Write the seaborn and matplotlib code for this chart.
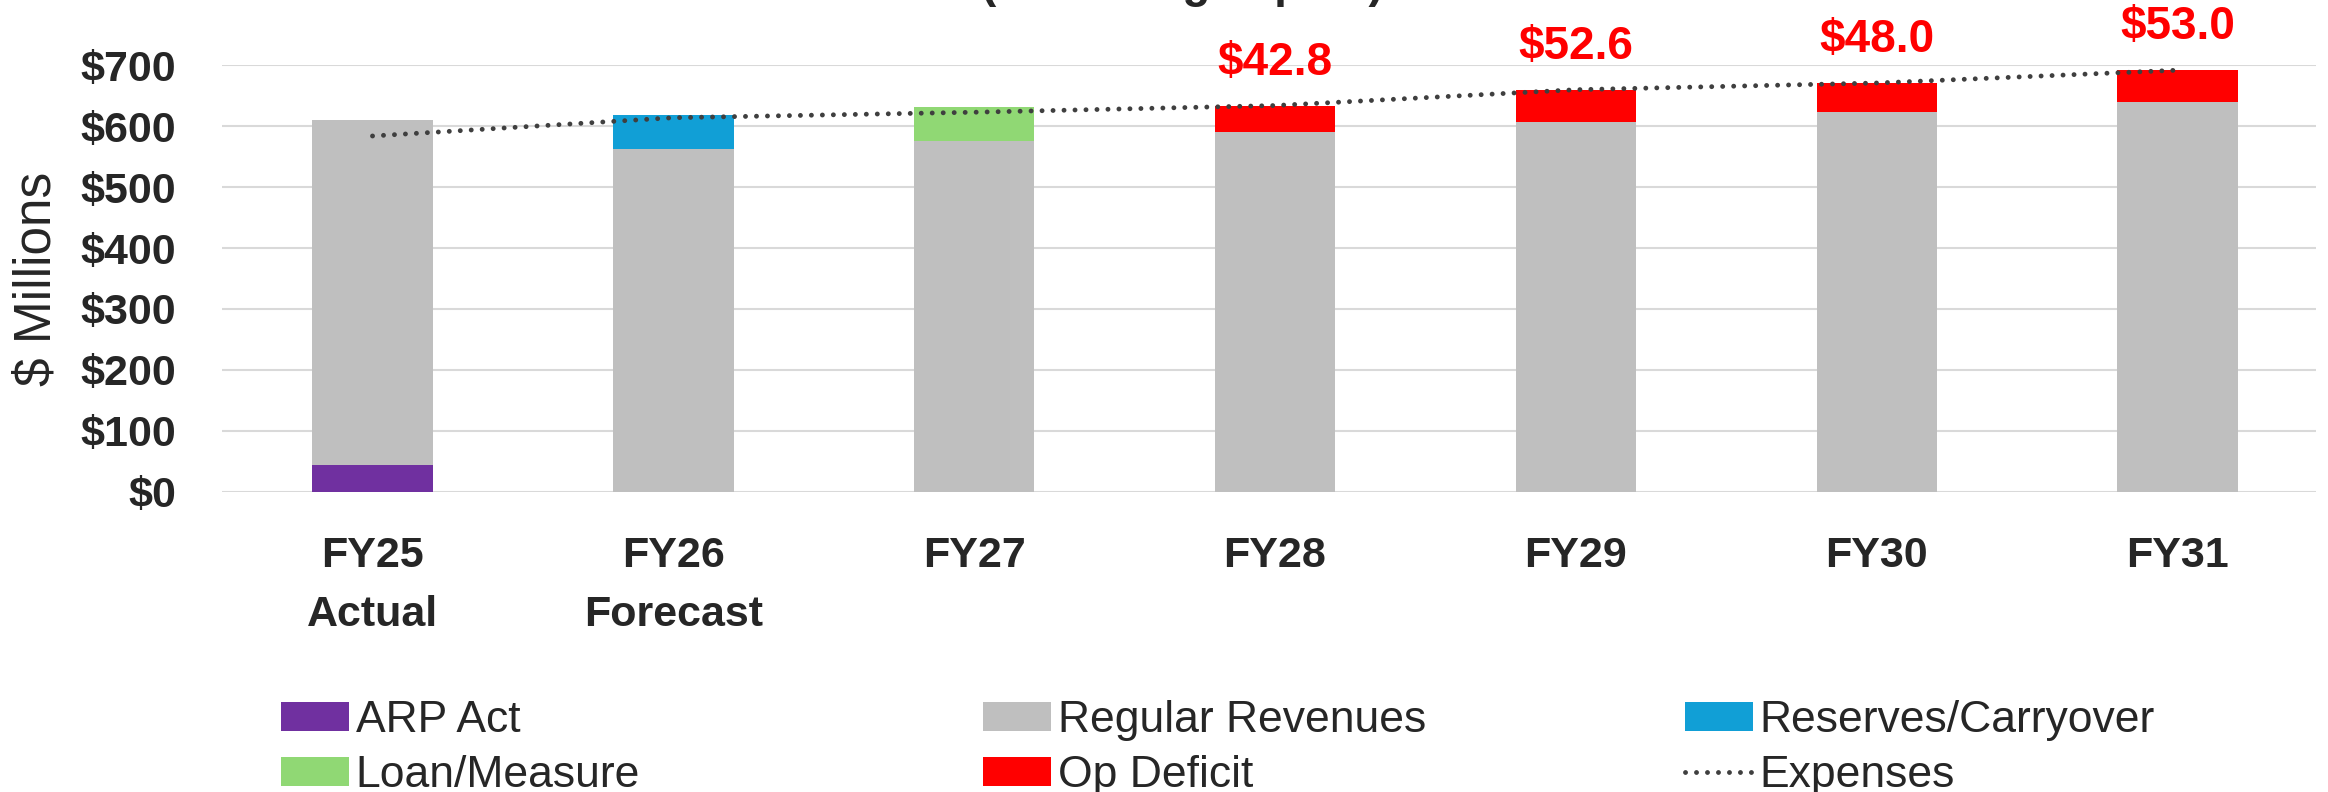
#!/usr/bin/env python3
# Revenue vs expenses stacked bar chart, FY25-FY31

import numpy as np
import matplotlib
matplotlib.use('Agg')
import matplotlib.pyplot as plt
import seaborn as sns

# Data (in $ millions)
categories = ['FY25\nActual', 'FY26\nForecast', 'FY27', 'FY28', 'FY29', 'FY30', 'FY31']
arp_act = [44, 0, 0, 0, 0, 0, 0]
regular_revenues = [566, 562, 576, 591, 607, 623, 640]
reserves_carryover = [0, 57, 0, 0, 0, 0, 0]
loan_measure = [0, 0, 55, 0, 0, 0, 0]
op_deficit = [0, 0, 0, 42.8, 52.6, 48.0, 53.0]
expenses = [584, 614, 623, 634, 660, 671, 692]

# Style
sns.set_style('white')
plt.rcParams['font.family'] = ['Liberation Sans', 'DejaVu Sans']

fig = plt.figure(figsize=(23.28, 7.92), dpi=100)
ax = fig.add_axes([0.0954, 0.3792, 0.8994, 0.5383])

x = np.arange(len(categories))
bar_w = 0.40

# Stacked layers, bottom to top
layers = [
    ('ARP Act', arp_act, '#7030A0'),
    ('Regular Revenues', regular_revenues, '#BFBFBF'),
    ('Reserves/Carryover', reserves_carryover, '#119FD6'),
    ('Loan/Measure', loan_measure, '#90D874'),
    ('Op Deficit', op_deficit, '#FF0000'),
]
bottom = np.zeros(len(categories))
handles = {}
for name, vals, col in layers:
    vals = np.array(vals, dtype=float)
    sns.barplot(x=x, y=vals, bottom=bottom, color=col, saturation=1, width=bar_w,
                errorbar=None, linewidth=0, label=name, ax=ax, zorder=2)
    handles[name] = ax.containers[-1]
    bottom = bottom + vals
if ax.get_legend() is not None:
    ax.get_legend().remove()

# Expenses line
line, = ax.plot(x, expenses, color='#3F3F3F', lw=3.5, linestyle=(0, (0.01, 2.25)),
                dash_capstyle='round', zorder=3, label='Expenses')
handles['Expenses'] = line

# Op deficit labels
for xi, top, d in zip(x, bottom, op_deficit):
    if d > 0:
        ax.annotate(f'${d:.1f}', xy=(xi, top), xytext=(0, 31), textcoords='offset points',
                    ha='center', va='center', color='#FF0000', fontsize=33,
                    fontweight='bold', annotation_clip=False)

# Axes formatting
ax.set_xlim(-0.5, 6.46)
ax.set_ylim(0, 700)
ax.set_yticks(range(0, 701, 100))
ax.set_yticklabels([f'${v}' for v in range(0, 701, 100)])
ax.set_xticks(x)
ax.set_xticklabels(categories, linespacing=1.6)
ax.tick_params(axis='y', length=0, pad=33, labelsize=31)
ax.tick_params(axis='x', length=0, pad=32, labelsize=31)
for lbl in ax.get_xticklabels() + ax.get_yticklabels():
    lbl.set_fontweight('bold')
ax.set_xlabel('')
ax.set_ylabel('$ Millions', fontsize=37, labelpad=14)
ax.yaxis.grid(True, color='#D9D9D9', lw=1.5, zorder=0)
ax.set_axisbelow(True)
for s in ax.spines.values():
    s.set_visible(False)

# Title (mostly cut off at the top edge in the original)
fig.text(0.508, 1.004, '(excluding capital)', ha='center', va='baseline',
         fontsize=33, fontweight='bold')

# Legend in three columns
legend_cols = [
    (['ARP Act', 'Loan/Measure'], 281),
    (['Regular Revenues', 'Op Deficit'], 983),
    (['Reserves/Carryover', 'Expenses'], 1685),
]
for names, xpix in legend_cols:
    fig.legend([handles[n] for n in names], names, loc='upper left',
               bbox_to_anchor=(xpix / 2328, 1 - 700 / 792), frameon=False,
               fontsize=32, borderpad=0, borderaxespad=0, handlelength=1.53,
               handleheight=0.63, handletextpad=0.15, labelspacing=0.32)

fig.savefig('out.png', dpi=100)
